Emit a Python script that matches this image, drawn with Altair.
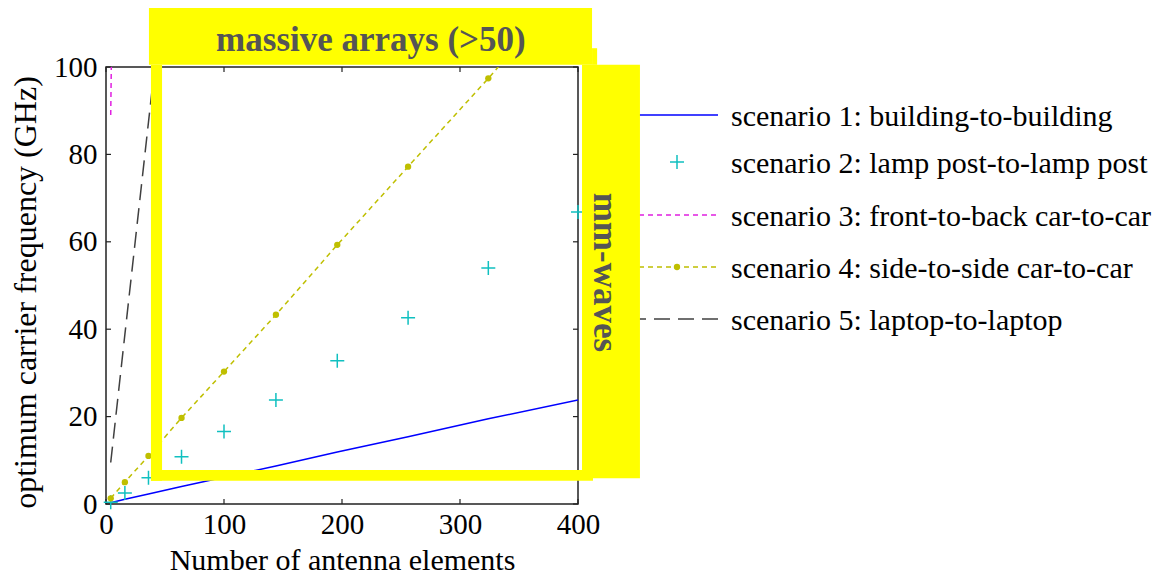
import altair as alt
import pandas as pd

# Number of antenna elements, N = (2k)^2
antennas = [4, 16, 36, 64, 100, 144, 196, 256, 324, 400]
# Optimum carrier frequency (GHz) for each scenario
freq_building = [0.3, 1.1, 2.3, 4.0, 6.1, 8.7, 11.9, 15.4, 19.5, 23.8]
freq_lamppost = [0.4, 2.5, 6.0, 10.8, 16.6, 23.8, 32.8, 42.6, 54.0, 66.8]
antennas_front = [4, 16]
freq_front = [89.0, 356.0]
freq_side = [1.3, 5.0, 11.0, 19.7, 30.3, 43.3, 59.3, 77.2, 97.4, 121.0]
antennas_laptop = [4, 16, 36, 64]
freq_laptop = [9.5, 38.8, 87.4, 155.0]

legend_labels = [
    "scenario 1: building-to-building",
    "scenario 2: lamp post-to-lamp post",
    "scenario 3: front-to-back car-to-car",
    "scenario 4: side-to-side car-to-car",
    "scenario 5: laptop-to-laptop",
]
x_ticks = [0, 100, 200, 300, 400]
y_ticks = [0, 20, 40, 60, 80, 100]

# Highlight boxes, in data units (antennas, GHz)
box_x = [36.4, 38.1, 38.1, 403.4, 411.9]
box_x2 = [411.9, 47.5, 412.7, 452.5, 416.2]
box_y = [113.5, 100.5, 7.8, 100.5, 104.3]
box_y2 = [100.5, 5.3, 5.3, 5.9, 100.5]

W, H = 472, 437
FONT = "Liberation Serif"
YELLOW = "#ffff00"
NOTE_GRAY = "#555555"

xs = alt.Scale(domain=[0, 400], nice=False, zero=False)
ys = alt.Scale(domain=[0, 100], nice=False, zero=False)
x_axis = alt.Axis(values=x_ticks, domain=False, ticks=False, grid=False, labelFlush=False,
                  labelFont=FONT, labelFontSize=29, labelColor="black", labelPadding=6,
                  title="Number of antenna elements", titleFont=FONT, titleFontSize=30,
                  titleFontWeight="normal", titleColor="black", titlePadding=6)
y_axis = alt.Axis(values=y_ticks, domain=False, ticks=False, grid=False, labelFlush=False,
                  labelFont=FONT, labelFontSize=29, labelColor="black", labelPadding=9,
                  title="optimum carrier frequency (GHz)", titleFont=FONT, titleFontSize=32,
                  titleFontWeight="normal", titleColor="black", titlePadding=11,
                  titleY=225)


def X(field):
    return alt.X(field, type="quantitative", scale=xs, axis=x_axis)


def Y(field):
    return alt.Y(field, type="quantitative", scale=ys, axis=y_axis)


frame_df = pd.DataFrame({"x0": [0], "x1": [400], "y0": [0], "y1": [100]})
frame = alt.Chart(frame_df).mark_rect(fillOpacity=0, stroke="#222222", strokeWidth=1.5).encode(
    x=X("x0"), x2="x1", y=Y("y0"), y2="y1")

xt = pd.DataFrame({"t": x_ticks})
yt = pd.DataFrame({"t": y_ticks})
tick_style = dict(color="#222222", strokeWidth=1.2)
ticks = [
    alt.Chart(xt).mark_rule(**tick_style).encode(x=X("t"), y=alt.value(H), y2=alt.value(H - 5)),
    alt.Chart(xt).mark_rule(**tick_style).encode(x=X("t"), y=alt.value(0), y2=alt.value(5)),
    alt.Chart(yt).mark_rule(**tick_style).encode(y=Y("t"), x=alt.value(0), x2=alt.value(5)),
    alt.Chart(yt).mark_rule(**tick_style).encode(y=Y("t"), x=alt.value(W), x2=alt.value(W - 5)),
]

s1 = pd.DataFrame({"n": antennas, "f": freq_building})
s2 = pd.DataFrame({"n": antennas, "f": freq_lamppost})
s3 = pd.DataFrame({"n": antennas_front, "f": freq_front})
s4 = pd.DataFrame({"n": antennas, "f": freq_side})
s5 = pd.DataFrame({"n": antennas_laptop, "f": freq_laptop})

PLUS = "M-1,0L1,0M0,-1L0,1"
BLUE, CYAN, MAGENTA, OLIVE, DARK = "#0000ff", "#10c0c0", "#e020e0", "#bfbf00", "#404040"

line1 = alt.Chart(s1).mark_line(color=BLUE, strokeWidth=1.5, clip=True).encode(x=X("n"), y=Y("f"))
pts2 = alt.Chart(s2).mark_point(shape=PLUS, size=196, filled=False, color=CYAN,
                                strokeWidth=1.5, opacity=1).encode(x=X("n"), y=Y("f"))
line3 = alt.Chart(s3).mark_line(color=MAGENTA, strokeWidth=1.5, strokeDash=[5, 4],
                                clip=True).encode(x=X("n"), y=Y("f"))
line4 = alt.Chart(s4).mark_line(color=OLIVE, strokeWidth=1.5, strokeDash=[5, 4],
                                clip=True).encode(x=X("n"), y=Y("f"))
dots4 = alt.Chart(s4).transform_filter("datum.f <= 100").mark_circle(
    color=OLIVE, size=40, opacity=1).encode(x=X("n"), y=Y("f"))
line5 = alt.Chart(s5).mark_line(color=DARK, strokeWidth=1.5, strokeDash=[16, 8],
                                clip=True).encode(x=X("n"), y=Y("f"))

boxes_df = pd.DataFrame({"x0": box_x, "x1": box_x2, "y0": box_y, "y1": box_y2})
boxes = alt.Chart(boxes_df).mark_rect(color=YELLOW, opacity=1).encode(
    x=X("x0"), x2="x1", y=Y("y0"), y2="y1")

notes_df = pd.DataFrame({"n": [224.5], "f": [106.2], "txt": ["massive arrays (>50)"]})
note_top = alt.Chart(notes_df).mark_text(font=FONT, fontSize=35, fontWeight="bold",
                                         color=NOTE_GRAY, baseline="middle").encode(
    x=X("n"), y=Y("f"), text="txt:N")
side_df = pd.DataFrame({"n": [423.0], "f": [53.0], "txt": ["mm-waves"]})
note_side = alt.Chart(side_df).mark_text(font=FONT, fontSize=35, fontWeight="bold",
                                         color=NOTE_GRAY, baseline="middle", angle=90).encode(
    x=X("n"), y=Y("f"), text="txt:N")

# Legend drawn to the right of the axes
row_y = [48, 95, 148, 200, 252]
sym_x0, sym_x1, sym_c, text_x = 524, 612, 571, 625
legend_layers = []
row_styles = [
    dict(kind="line", color=BLUE, dash=None),
    dict(kind="plus", color=CYAN, dash=None),
    dict(kind="line", color=MAGENTA, dash=[5, 4]),
    dict(kind="dotline", color=OLIVE, dash=[5, 4]),
    dict(kind="line", color=DARK, dash=[16, 8]),
]
for label, ry, st in zip(legend_labels, row_y, row_styles):
    one = pd.DataFrame({"label": [label]})
    if st["kind"] in ("line", "dotline"):
        kw = dict(color=st["color"], strokeWidth=1.5)
        if st["dash"]:
            kw["strokeDash"] = st["dash"]
        legend_layers.append(alt.Chart(one).mark_rule(**kw).encode(
            x=alt.value(sym_x0), x2=alt.value(sym_x1), y=alt.value(ry)))
    if st["kind"] == "dotline":
        legend_layers.append(alt.Chart(one).mark_circle(color=st["color"], size=40, opacity=1).encode(
            x=alt.value(sym_c), y=alt.value(ry)))
    if st["kind"] == "plus":
        legend_layers.append(alt.Chart(one).mark_point(shape=PLUS, size=196, filled=False,
                                                       color=st["color"], strokeWidth=1.5,
                                                       opacity=1).encode(
            x=alt.value(sym_c), y=alt.value(ry)))
    legend_layers.append(alt.Chart(one).mark_text(font=FONT, fontSize=30, color="black",
                                                  align="left", baseline="middle").encode(
        x=alt.value(text_x), y=alt.value(ry + 2), text="label:N"))

chart = alt.layer(
    frame, *ticks, line1, pts2, line3, line4, dots4, line5, *legend_layers,
    boxes, note_top, note_side,
).properties(
    width=W, height=H,
    autosize=alt.AutoSizeParams(type="none"),
    padding={"left": 106, "top": 67, "right": 590, "bottom": 74},
    background="white",
).configure_view(stroke=None)

chart.save("out.html", embed_options={"renderer": "svg", "actions": False})
